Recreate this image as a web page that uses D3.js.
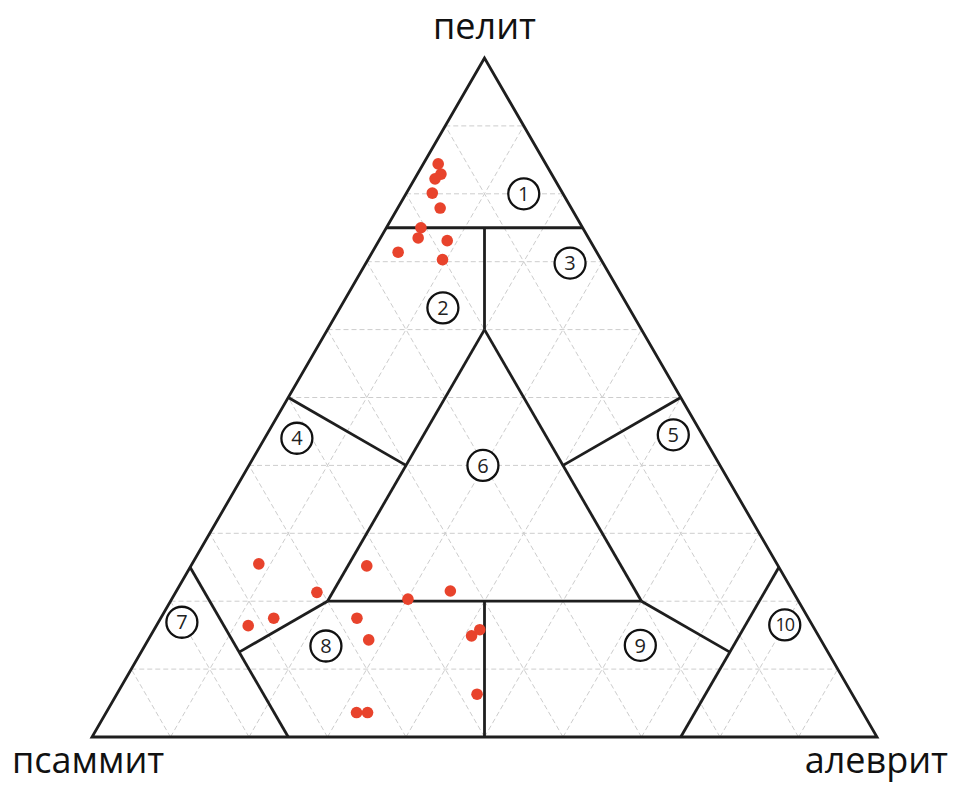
<!DOCTYPE html>
<html>
<head>
<meta charset="utf-8">
<script src="https://cdn.jsdelivr.net/npm/d3@7"></script>
<style>
  body { margin: 0; background: #fff; }
  text { font-family: "Open Sans", sans-serif; }
</style>
</head>
<body>
<svg id="chart" width="954" height="786"></svg>
<script>
// sample compositions, % (pelit, psammit, alevrit)
var pelit   = [84.4, 82.9, 82.2, 80.1, 77.9, 75.0, 73.5, 73.1, 71.4, 70.3,
               25.5, 25.2, 21.3, 20.3, 21.5, 16.4, 17.5, 17.5, 14.3, 14.9, 15.8, 6.3, 3.6, 3.6];
var psammit = [13.7, 14.1, 15.2, 16.6, 16.7, 20.6, 21.7, 18.2, 25.3, 20.2,
               66.0, 52.4, 60.7, 49.6, 43.6, 71.9, 68.1, 57.5, 57.6, 44.2, 42.7, 47.8, 64.5, 63.1];
var alevrit = [1.9, 3.0, 2.6, 3.3, 5.4, 4.4, 4.8, 8.7, 3.3, 9.5,
               8.5, 22.4, 18.0, 30.1, 34.9, 11.7, 14.4, 25.0, 28.1, 40.9, 41.5, 45.9, 31.9, 33.3];

// zone numbers and where they sit (pelit, psammit, alevrit)
var zones      = ["1", "2", "3", "4", "5", "6", "7", "8", "9", "10"];
var zonePelit  = [80, 63.2, 69.8, 44, 44.5, 40, 16.9, 13.4, 13.5, 16.5];
var zonePsam   = [5, 23.7, 4.2, 51.9, 3.7, 30.2, 80.1, 63.5, 23.4, 3.5];
var zoneAlev   = [15, 13.1, 26, 4.1, 51.8, 29.8, 3, 23.1, 63.1, 80];

// field boundaries, each segment from one composition to another
var bounds = [
  [[75, 25, 0], [75, 0, 25]],
  [[75, 12.5, 12.5], [60, 20, 20]],
  [[60, 20, 20], [20, 60, 20]],
  [[60, 20, 20], [20, 20, 60]],
  [[20, 60, 20], [20, 20, 60]],
  [[20, 40, 40], [0, 50, 50]],
  [[50, 50, 0], [40, 40, 20]],
  [[50, 0, 50], [40, 20, 40]],
  [[20, 60, 20], [12.5, 75, 12.5]],
  [[20, 20, 60], [12.5, 12.5, 75]],
  [[25, 75, 0], [0, 75, 25]],
  [[25, 0, 75], [0, 25, 75]]
];

var corners = ["пелит", "псаммит", "алеврит"];

var svg = d3.select("#chart");

var xScale = d3.scaleLinear().domain([0, 1]).range([92, 877]);
var yScale = d3.scaleLinear().domain([0, 1]).range([737, 58]);

function proj(p, s, a) {
  var t = p + s + a;
  p = p / t; a = a / t;
  return [xScale(a + p / 2), yScale(p)];
}

var line = d3.line();

// dashed grid every 10 %
var grid = [];
d3.range(1, 10).forEach(function (k) {
  var v = k * 10, r = 100 - v;
  grid.push([proj(v, r, 0), proj(v, 0, r)]);
  grid.push([proj(0, v, r), proj(r, v, 0)]);
  grid.push([proj(0, r, v), proj(r, 0, v)]);
});

svg.append("g")
  .selectAll("path")
  .data(grid)
  .enter()
  .append("path")
  .attr("d", (d) => line(d))
  .attr("fill", "none")
  .attr("stroke", "#cdcdcd")
  .attr("stroke-width", 1)
  .attr("stroke-dasharray", "5,3");

// outline
svg.append("path")
  .attr("d", line([proj(100, 0, 0), proj(0, 100, 0), proj(0, 0, 100)]) + "Z")
  .attr("fill", "none")
  .attr("stroke", "#1e1e1e")
  .attr("stroke-width", 2.8)
  .attr("stroke-linejoin", "miter");

svg.append("g")
  .selectAll("path")
  .data(bounds)
  .enter()
  .append("path")
  .attr("d", (d) => line(d.map((c) => proj(c[0], c[1], c[2]))))
  .attr("fill", "none")
  .attr("stroke", "#1e1e1e")
  .attr("stroke-width", 2.8);

// zone labels
var zg = svg.append("g")
  .selectAll("g")
  .data(zones)
  .enter()
  .append("g")
  .attr("transform", (d, i) => "translate(" + proj(zonePelit[i], zonePsam[i], zoneAlev[i]) + ")");

zg.append("circle")
  .attr("r", 15.5)
  .attr("fill", "#fff")
  .attr("stroke", "#111")
  .attr("stroke-width", 2.3);

zg.append("text")
  .attr("text-anchor", "middle")
  .attr("dy", "0.36em")
  .attr("font-size", (d) => d.length > 1 ? 18 : 20)
  .attr("letter-spacing", (d) => d.length > 1 ? -1 : 0)
  .attr("fill", "#222")
  .text((d) => d);

// samples
svg.append("g")
  .selectAll("circle")
  .data(pelit)
  .enter()
  .append("circle")
  .attr("cx", (d, i) => proj(pelit[i], psammit[i], alevrit[i])[0])
  .attr("cy", (d, i) => proj(pelit[i], psammit[i], alevrit[i])[1])
  .attr("r", 5.8)
  .attr("fill", "#e8432c");

// corner names
svg.append("text")
  .attr("x", xScale(0.5))
  .attr("y", 39)
  .attr("text-anchor", "middle")
  .attr("font-size", 36)
  .attr("fill", "#111")
  .text(corners[0]);

svg.append("text")
  .attr("x", 12)
  .attr("y", 773)
  .attr("text-anchor", "start")
  .attr("font-size", 36)
  .attr("fill", "#111")
  .text(corners[1]);

svg.append("text")
  .attr("x", 948)
  .attr("y", 773)
  .attr("text-anchor", "end")
  .attr("font-size", 36)
  .attr("fill", "#111")
  .text(corners[2]);
</script>
</body>
</html>
